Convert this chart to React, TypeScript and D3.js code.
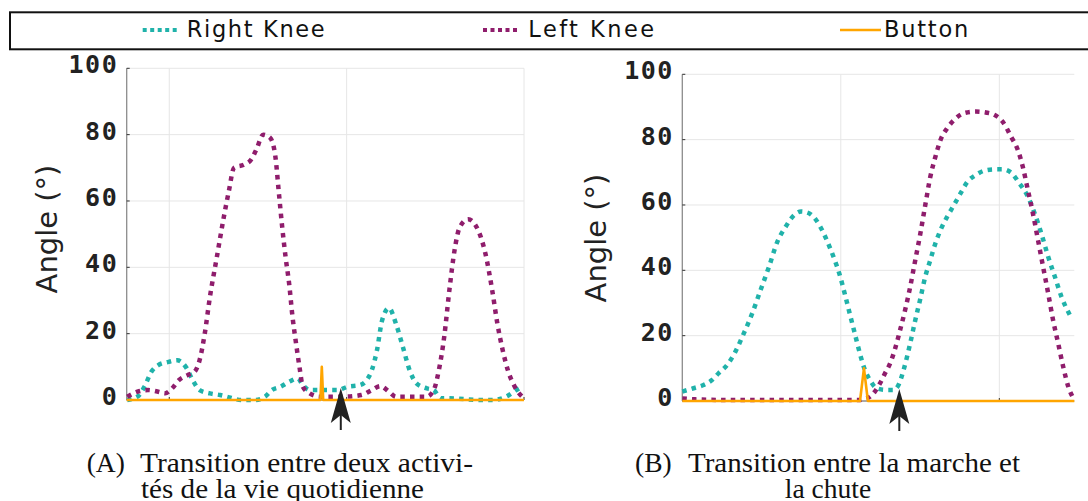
import React from 'react'
import * as d3 from 'd3'

type Pt = [number, number]

// (A) transition between two daily activities: [time, angle in degrees]
const aRightKnee: Pt[] = [
  [-2.37, 0], [-1.79, 1], [-1.4, 4], [-1.01, 8.5], [-0.62, 10.5], [-0.04, 11.5], [0.45, 12],
  [0.93, 10], [1.32, 6], [1.71, 3], [2.29, 2], [2.87, 1.5], [3.46, 0.7], [4.04, 0], [4.82, 0],
  [5.4, 1], [5.79, 3], [6.27, 4], [6.76, 5.5], [7.24, 6.5], [7.53, 4.5], [7.92, 3], [8.7, 3],
  [9.48, 3], [10.06, 4], [10.74, 4.5], [11.13, 6], [11.42, 9], [11.71, 15], [12.0, 24],
  [12.39, 27.7], [12.78, 23], [13.17, 16], [13.55, 9], [13.94, 5], [14.52, 3.5], [14.91, 3],
  [15.3, 0.5], [15.69, 0.5], [17.63, 0], [18.21, 0], [18.99, 1], [19.57, 3], [19.96, 4.2],
]
const aLeftKnee: Pt[] = [
  [-2.37, 1], [-1.79, 2.5], [-1.2, 3], [-0.62, 2.5], [-0.23, 2], [0.16, 3.5], [0.54, 6],
  [1.03, 7.5], [1.42, 8.5], [1.71, 12], [2.0, 20], [2.29, 31], [2.68, 43], [3.07, 55],
  [3.36, 63], [3.65, 70], [4.23, 71], [4.62, 72.5], [4.91, 75.5], [5.3, 80], [5.69, 79],
  [5.98, 73.5], [6.17, 63], [6.37, 52], [6.56, 43], [6.76, 35], [6.95, 25], [7.15, 17],
  [7.34, 10], [7.53, 4], [7.92, 2], [8.5, 1], [9.86, 1], [10.83, 1.5], [11.42, 3], [11.9, 4.2],
  [12.39, 2.5], [12.78, 1], [14.52, 1], [14.91, 3], [15.2, 9], [15.5, 19], [15.79, 33],
  [16.08, 45], [16.37, 52], [16.85, 54.5], [17.34, 52], [17.83, 44], [18.21, 33], [18.5, 23],
  [18.8, 15], [19.09, 9], [19.48, 4], [20.0, 0.5],
]
const aButton: Pt[] = [[-2.4, 0], [8.52, 0], [8.6, 10], [8.68, 0], [20, 0]]
const aArrowAt = 9.67

// (B) transition between walking and falling
const bRightKnee: Pt[] = [
  [0.0, 2.9], [0.7, 3.9], [1.34, 4.9], [1.87, 6.4], [2.29, 8.5], [2.82, 11], [3.35, 15.1],
  [3.88, 20.7], [4.41, 26.8], [4.94, 34], [5.47, 41.1], [6.0, 48.8], [6.53, 53.4], [6.96, 56.4],
  [7.49, 58], [8.02, 57.4], [8.44, 55.4], [8.87, 51.8], [9.29, 47.2], [9.61, 43.2], [9.93, 38.6],
  [10.24, 33], [10.56, 26.8], [10.88, 20.7], [11.2, 14.6], [11.52, 9.5], [11.84, 6.4],
  [12.26, 3.9], [12.79, 3.4], [13.32, 3.4], [13.64, 4.9], [13.96, 9.5], [14.38, 17.7],
  [14.7, 24.8], [15.02, 31.4], [15.33, 38.1], [15.65, 43.2], [15.97, 48.3], [16.29, 52.3],
  [16.71, 56.4], [17.14, 60], [17.56, 63.6], [17.99, 67.1], [18.52, 69.2], [19.05, 70.5],
  [19.68, 70.9], [20.21, 70.9], [20.74, 69.9], [21.27, 66.6], [21.8, 62.6], [22.23, 57.4],
  [22.65, 51.3], [23.08, 44.2], [23.5, 38.1], [23.92, 31.9], [24.45, 26.3],
]
const bLeftKnee: Pt[] = [
  [0.0, 0.8], [0.81, 0.5], [2.93, 0.3], [11.2, 0.3], [11.41, 0.5], [11.83, 1.3], [12.15, 2.9],
  [12.47, 5.4], [12.79, 8.5], [13.11, 11.5], [13.43, 16.1], [13.74, 21.7], [14.06, 27.9],
  [14.38, 35], [14.7, 43.2], [15.02, 51.3], [15.33, 60], [15.65, 68.7], [15.97, 74.8],
  [16.29, 79.9], [16.71, 83.5], [17.14, 86], [17.77, 88.1], [18.52, 88.6], [19.15, 88.3],
  [19.68, 87.6], [20.21, 85.5], [20.74, 80.9], [21.17, 76.8], [21.48, 71.7], [21.8, 64.6],
  [22.12, 57.4], [22.44, 49.3], [22.76, 41.1], [23.08, 33], [23.39, 24.8], [23.71, 17.7],
  [24.03, 10.5], [24.35, 4.4], [24.67, 0.8],
]
const bButton: Pt[] = [[0, 0], [11.21, 0], [11.46, 10], [11.71, 0], [24.73, 0]]
const bArrowAt = 13.69

const yTicks = [0, 20, 40, 60, 80, 100]
const xTicks = [0, 10, 20]
const legendLabels = ['Right Knee', 'Left Knee', 'Button']
const captionA = ['(A)', 'Transition entre deux activi-', 'tés de la vie quotidienne']
const captionB = ['(B)', 'Transition entre la marche et', 'la chute']

const TEAL = '#20b2aa'
const PURPLE = '#8f1d6c'
const ORANGE = '#ffa500'
const INK = '#222'

type PanelProps = {
  x0: number, x1: number, y0: number, y1: number,
  xDomain: [number, number],
  rightKnee: Pt[], leftKnee: Pt[], button: Pt[], arrowAt: number,
  titleX: number, titleY: number,
}

function Panel({ x0, x1, y0, y1, xDomain, rightKnee, leftKnee, button, arrowAt, titleX, titleY }: PanelProps) {
  const x = d3.scaleLinear().domain(xDomain).range([x0, x1])
  const y = d3.scaleLinear().domain([0, 100]).range([y0, y1])
  const smooth = d3.line<Pt>().x(d => x(d[0])).y(d => y(d[1])).curve(d3.curveMonotoneX)
  const straight = d3.line<Pt>().x(d => x(d[0])).y(d => y(d[1]))
  const ax = x(arrowAt)
  const tip = y0 - 12
  return (
    <g>
      {yTicks.filter(t => t > 0).map(t => (
        <line key={'gy' + t} x1={x0} x2={x1} y1={y(t)} y2={y(t)} stroke="#e6e6e6" strokeWidth={1} />
      ))}
      {xTicks.filter(t => x(t) > x0 + 1).map(t => (
        <line key={'gx' + t} x1={x(t)} x2={x(t)} y1={y0} y2={y1} stroke="#e6e6e6" strokeWidth={1} />
      ))}
      <line x1={x0} x2={x0} y1={y0} y2={y1} stroke="#8c8c8c" strokeWidth={1.3} />
      <line x1={x0} x2={x1} y1={y0} y2={y0} stroke="#8c8c8c" strokeWidth={1.3} />
      {yTicks.map(t => (
        <g key={'ty' + t}>
          <line x1={x0} x2={x0 + 3} y1={y(t)} y2={y(t)} stroke="#333" strokeWidth={1} />
          <text x={x0 - 8.5} y={y(t) + 5} textAnchor="end" fontFamily="DejaVu Sans Mono" fontWeight="bold"
            fontSize={25} letterSpacing={1.5} fill={INK}>{t}</text>
        </g>
      ))}
      {xTicks.filter(t => x(t) > x0 + 1).map(t => (
        <line key={'tx' + t} x1={x(t)} x2={x(t)} y1={y0} y2={y0 - 3} stroke="#333" strokeWidth={1} />
      ))}
      <text transform={`translate(${titleX},${titleY}) rotate(-90)`} textAnchor="middle"
        fontFamily="DejaVu Sans" fontSize={29} fill={INK}>Angle (°)</text>
      <path d={smooth(rightKnee)!} fill="none" stroke={TEAL} strokeWidth={4.5} strokeDasharray="4.5 5.2" />
      <path d={smooth(leftKnee)!} fill="none" stroke={PURPLE} strokeWidth={4.5} strokeDasharray="4.5 5.2" />
      <path d={straight(button)!} fill="none" stroke={ORANGE} strokeWidth={2.6} strokeLinejoin="round" />
      <path d={`M${ax},${tip} L${ax + 10},${tip + 35} L${ax},${tip + 27} L${ax - 10},${tip + 35} Z`} fill={INK} />
      <line x1={ax} x2={ax} y1={tip + 27} y2={tip + 42} stroke={INK} strokeWidth={2} />
    </g>
  )
}

function Caption({ lines, labelX, textX, firstLen, secondX, secondLen, center }: {
  lines: string[], labelX: number, textX: number, firstLen: number, secondX: number, secondLen?: number, center?: boolean
}) {
  const font = { fontFamily: 'Liberation Serif', fontSize: 27.5, fill: '#111' }
  return (
    <g>
      <text x={labelX} y={471.7} {...font}>{lines[0]}</text>
      <text x={textX} y={471.7} textLength={firstLen} lengthAdjust="spacingAndGlyphs" {...font}>{lines[1]}</text>
      <text x={secondX} y={498.3} textAnchor={center ? 'middle' : 'start'}
        textLength={secondLen} lengthAdjust="spacingAndGlyphs" {...font}>{lines[2]}</text>
    </g>
  )
}

export default function App() {
  const colors = [TEAL, PURPLE, ORANGE]
  const sampleX = [142.7, 483, 840]
  const sampleW = [34, 35, 41]
  const textX = [186.7, 528.3, 884]
  const textLen = [138, 125.7, 84.3]
  return (
    <svg width={1088} height={501} style={{ position: 'absolute', left: 0, top: 0, background: '#fff' }}>
      <rect x={10} y={12.3} width={1100} height={37} fill="#fff" stroke="#111" strokeWidth={2} />
      {legendLabels.map((label, i) => (
        <g key={label}>
          <line x1={sampleX[i]} x2={sampleX[i] + sampleW[i]} y1={30} y2={30} stroke={colors[i]}
            strokeWidth={i < 2 ? 4 : 2.6} strokeDasharray={i < 2 ? '4 3.5' : undefined} />
          <text x={textX[i]} y={37.3} fontFamily="DejaVu Sans" fontSize={22.5} fill="#111"
            textLength={textLen[i]} lengthAdjust="spacing">{label}</text>
        </g>
      ))}
      <Panel x0={126.7} x1={524} y0={400} y1={68.3} xDomain={[-2.4, 20]}
        rightKnee={aRightKnee} leftKnee={aLeftKnee} button={aButton} arrowAt={aArrowAt}
        titleX={57} titleY={229} />
      <Panel x0={682.3} x1={1074.3} y0={401} y1={74.3} xDomain={[0, 24.73]}
        rightKnee={bRightKnee} leftKnee={bLeftKnee} button={bButton} arrowAt={bArrowAt}
        titleX={606} titleY={238} />
      <Caption lines={captionA} labelX={86.7} textX={140} firstLen={333} secondX={141} secondLen={283} />
      <Caption lines={captionB} labelX={635} textX={688} firstLen={332} secondX={828} center />
    </svg>
  )
}
